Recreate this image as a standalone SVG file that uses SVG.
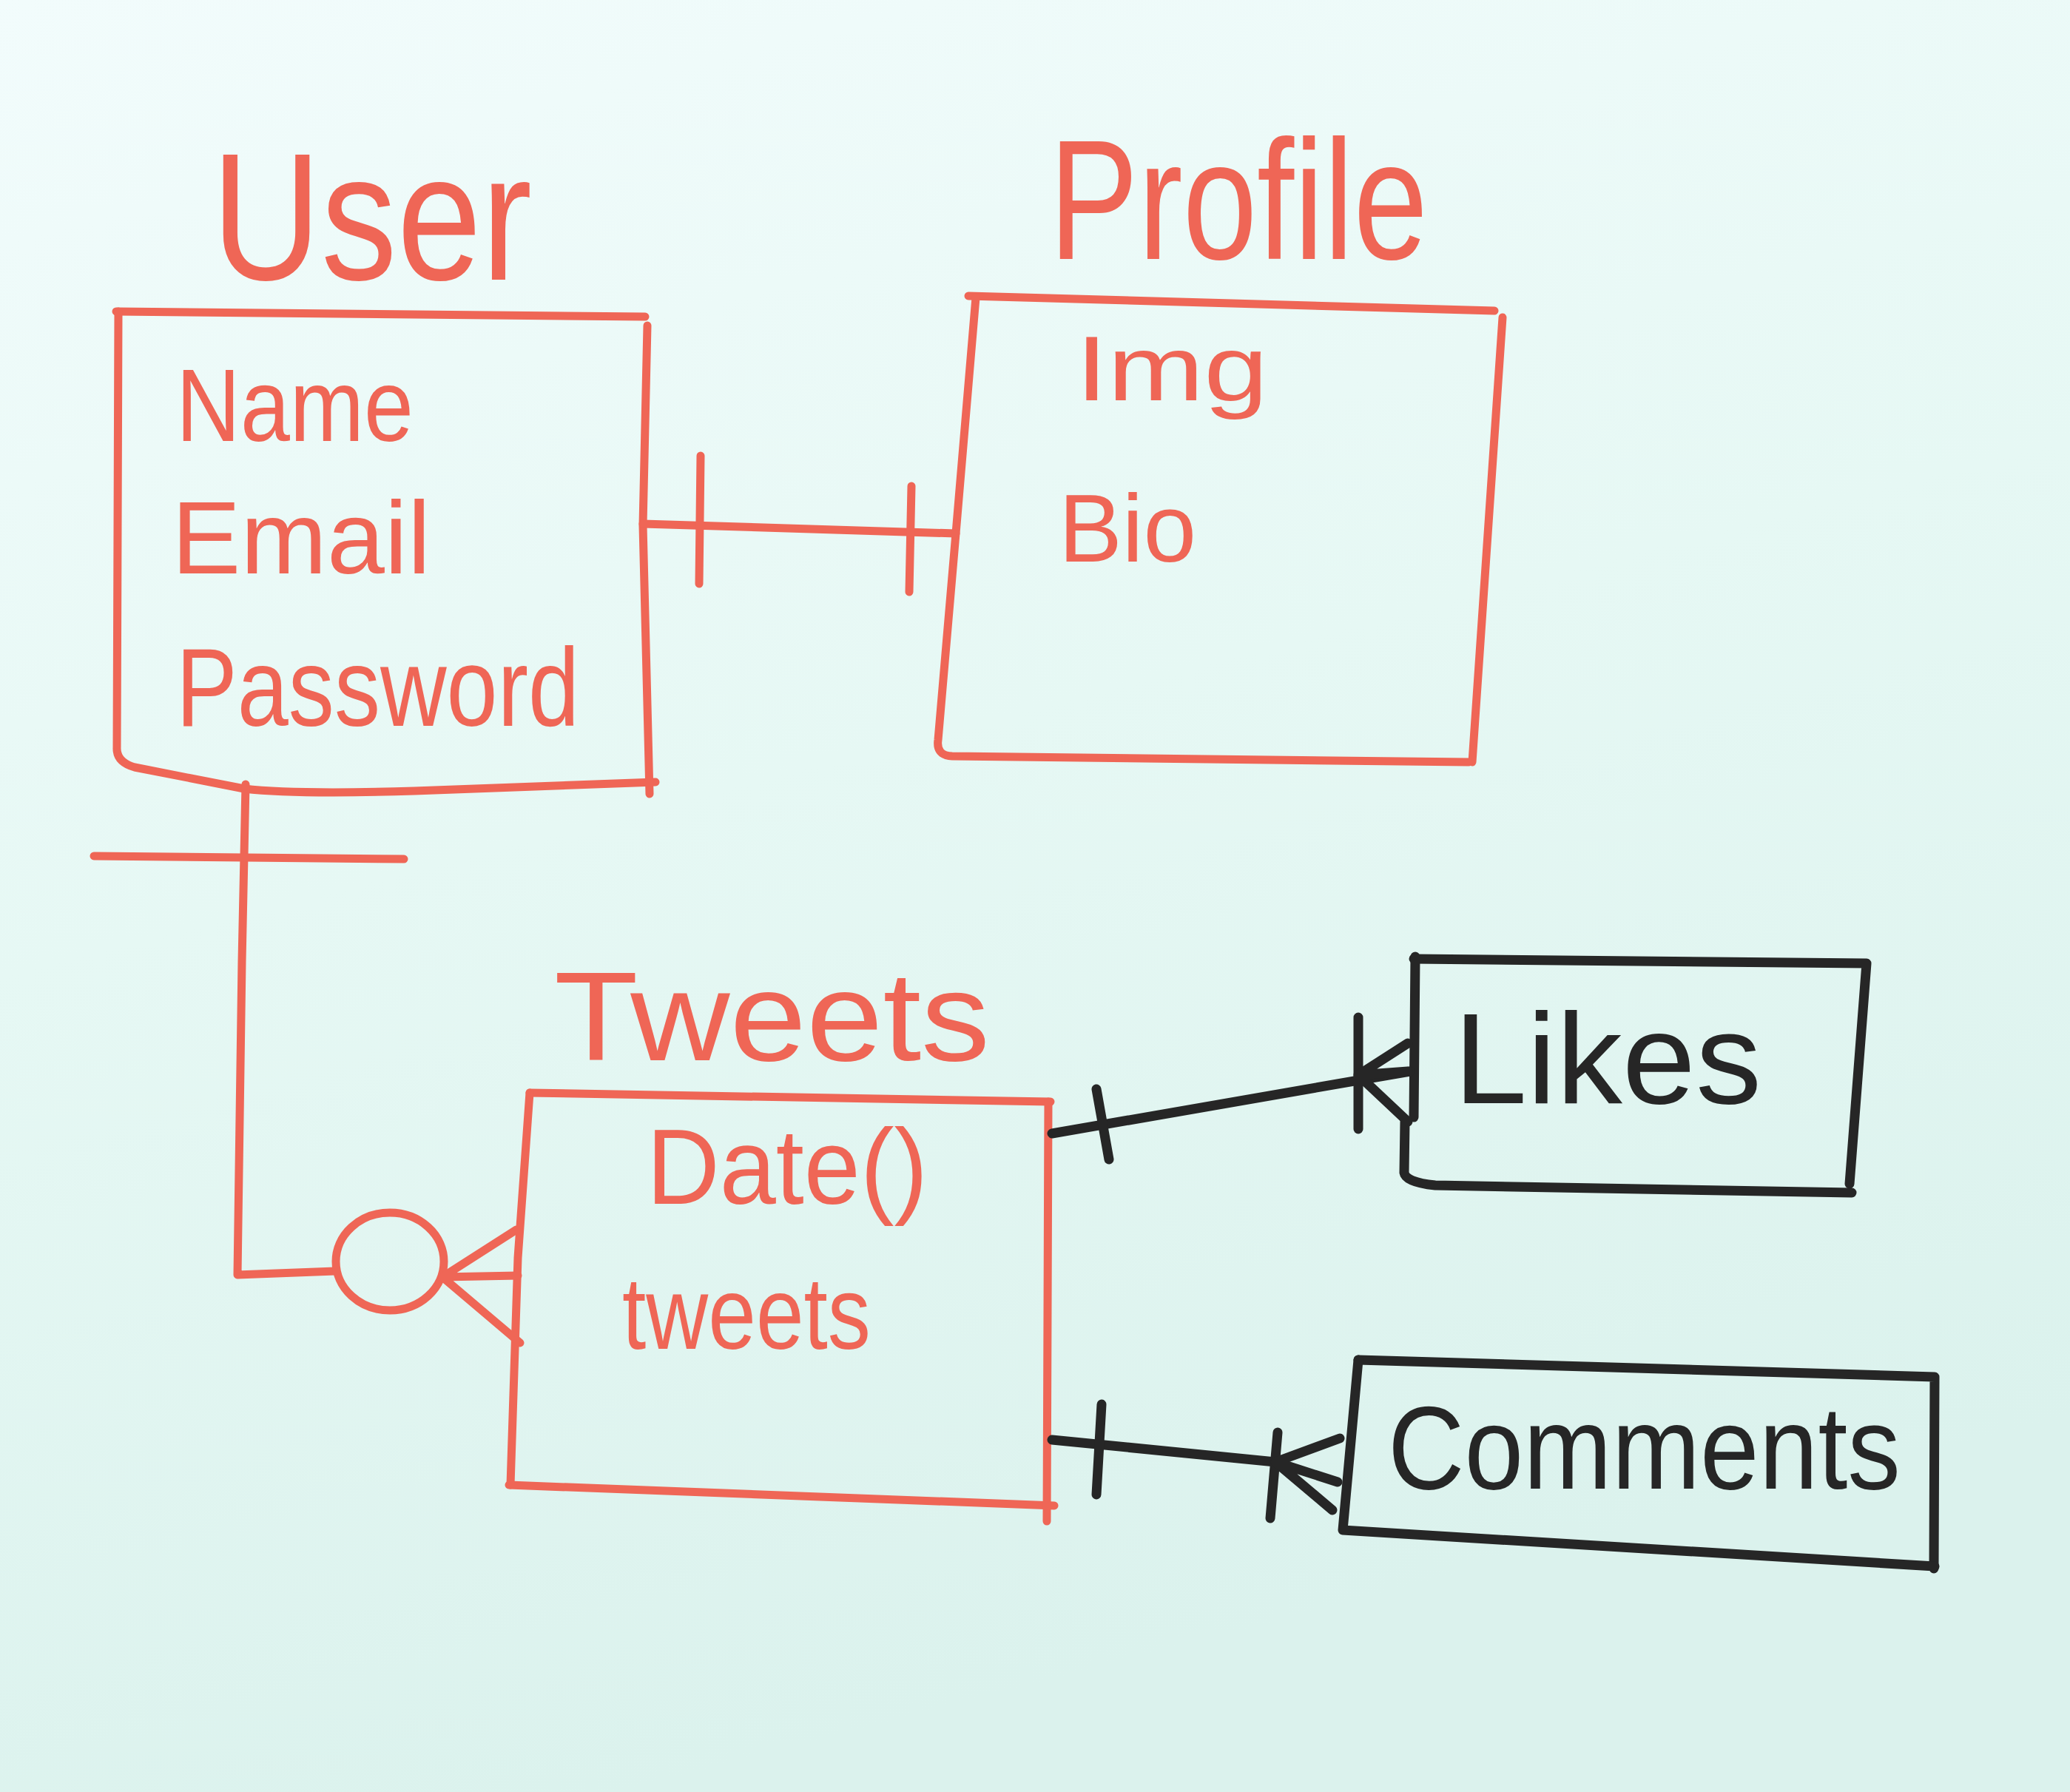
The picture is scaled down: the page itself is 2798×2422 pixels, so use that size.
<svg xmlns="http://www.w3.org/2000/svg" width="2798" height="2422" viewBox="0 0 2798 2422">
<defs>
<linearGradient id="bg" x1="0" y1="0" x2="0.3" y2="1">
<stop offset="0" stop-color="#f2fcfc"/>
<stop offset="0.5" stop-color="#e6f8f4"/>
<stop offset="1" stop-color="#dbf2ed"/>
</linearGradient>
<style>
.r{fill:none;stroke:#ef6656;stroke-width:11;stroke-linecap:round;stroke-linejoin:round}
.k{fill:none;stroke:#262626;stroke-width:13;stroke-linecap:round;stroke-linejoin:round}
.tr{fill:#ef6656;font-family:"Liberation Sans",Arial,sans-serif}
.tk{fill:#262626;font-family:"Liberation Sans",Arial,sans-serif}
</style>
</defs>
<rect width="2798" height="2422" fill="url(#bg)"/>

<g id="user">
<text class="tr" x="286" y="378" font-size="245" textLength="433" lengthAdjust="spacingAndGlyphs">User</text>
<path class="r" d="M157,421 L872,428"/>
<path class="r" d="M160,421 L158,1010 Q157,1030 182,1037 L330,1066 Q400,1074 560,1069 L886,1057"/>
<path class="r" d="M875,440 L869,710 L878,1073"/>
<text class="tr" x="238" y="596" font-size="140" textLength="321" lengthAdjust="spacingAndGlyphs">Name</text>
<text class="tr" x="232" y="775" font-size="140" textLength="350" lengthAdjust="spacingAndGlyphs">Email</text>
<text class="tr" x="238" y="981" font-size="150" textLength="545" lengthAdjust="spacingAndGlyphs">Password</text>
</g>

<g id="profile">
<text class="tr" x="1418" y="350" font-size="230" textLength="512" lengthAdjust="spacingAndGlyphs">Profile</text>
<path class="r" d="M1309,400 L2020,420"/>
<path class="r" d="M2031,429 L1990,1030"/>
<path class="r" d="M1319,402 L1292,721 L1268,1000 Q1265,1021 1287,1022 L1985,1030"/>
<text class="tr" x="1454" y="541" font-size="125" textLength="260" lengthAdjust="spacingAndGlyphs">Img</text>
<text class="tr" x="1431" y="759" font-size="130" textLength="186" lengthAdjust="spacingAndGlyphs">Bio</text>
</g>

<g id="tweets">
<text class="tr" x="749" y="1433" font-size="170" textLength="589" lengthAdjust="spacingAndGlyphs">Tweets</text>
<path class="r" d="M716,1477 L1420,1489"/>
<path class="r" d="M716,1477 L700,1700 L690,2007"/>
<path class="r" d="M688,2007 L1425,2035"/>
<path class="r" d="M1417,1489 L1415,2056"/>
<text class="tr" x="874" y="1627" font-size="145" textLength="380" lengthAdjust="spacingAndGlyphs">Date()</text>
<text class="tr" x="841" y="1823" font-size="140" textLength="336" lengthAdjust="spacingAndGlyphs">tweets</text>
</g>

<g id="likes">
<path class="k" d="M1911,1296 L2523,1302 L2500,1600"/>
<path class="k" d="M1913,1293 L1911,1510"/>
<path class="k" d="M1899,1516 L1898,1585 Q1900,1598 1940,1602 L2503,1612"/>
<text class="tk" x="1965" y="1491" font-size="175" textLength="416" lengthAdjust="spacingAndGlyphs">Likes</text>
</g>

<g id="comments">
<path class="k" d="M1836,1838 L2615,1861 L2614,2120"/>
<path class="k" d="M1836,1838 L1815,2068 L2615,2117"/>
<text class="tk" x="1876" y="2012" font-size="160" textLength="693" lengthAdjust="spacingAndGlyphs">Comments</text>
</g>

<g id="connectors">
<path class="r" d="M869,708 L1292,721"/>
<path class="r" d="M947,616 L945,789"/>
<path class="r" d="M1232,657 L1229,800"/>
<path class="r" d="M332,1060 L327,1300 L321,1723 L453,1718"/>
<path class="r" d="M127,1157 L546,1161"/>
<ellipse class="r" cx="527" cy="1705" rx="73" ry="66"/>
<path class="r" d="M598,1726 L698,1662 M598,1726 L700,1724 M598,1726 L703,1815"/>
<path class="k" d="M1422,1532 L1906,1448"/>
<path class="k" d="M1482,1472 L1499,1567"/>
<path class="k" d="M1836,1375 L1836,1526"/>
<path class="k" d="M1836,1453 L1903,1410 M1836,1453 L1903,1448 M1836,1453 L1903,1516"/>
<path class="k" d="M1422,1946 L1724,1976"/>
<path class="k" d="M1489,1898 L1482,2020"/>
<path class="k" d="M1727,1936 L1717,2052"/>
<path class="k" d="M1724,1976 L1811,1944 M1724,1976 L1808,2003 M1724,1976 L1801,2041"/>
</g>
</svg>
